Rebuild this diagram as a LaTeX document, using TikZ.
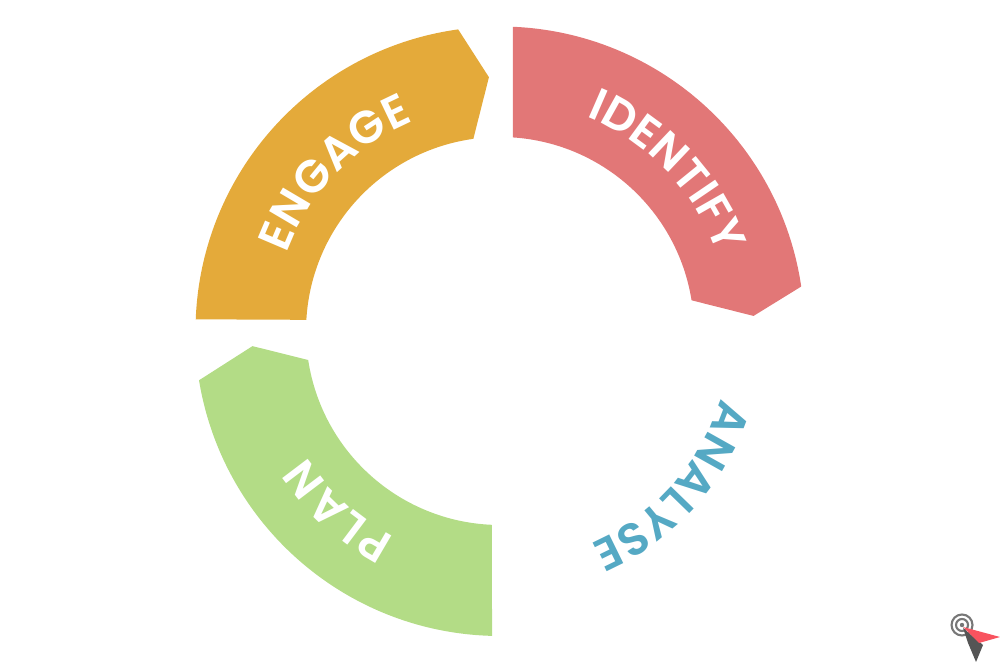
\documentclass[tikz,border=0pt]{standalone}
\usepackage{fontspec}
\newfontfamily\arcfont{Poppins SemiBold}
\usetikzlibrary{decorations.text}
\definecolor{identifycol}{HTML}{E27777}
\definecolor{engagecol}{HTML}{E4AA3A}
\definecolor{plancol}{HTML}{B3DC86}
\definecolor{analysecol}{HTML}{55A9C4}
\definecolor{cursorcol}{HTML}{555555}
\definecolor{cursorred}{HTML}{F8535F}
\tikzset{
  arclabel/.style 2 args={decorate,decoration={text along path,text align=fit to path,
    text={|\fontsize{13}{14}\selectfont\arcfont\color{#1}|#2}}},
  ringline/.style={draw=cursorcol!80,line width=0.6pt}
}
\begin{document}
\begin{tikzpicture}
\useasboundingbox (0,0) rectangle (10,6.62);
\begin{scope}[shift={(5,3.31)}]
\fill[identifycol] (87.6:3.045) arc[start angle=87.6,end angle=8.4,radius=3.045] -- (3.4:2.54) -- (9.1:1.94) arc[start angle=9.1,end angle=86.2,radius=1.94] -- cycle;
\fill[engagecol] (177.8:3.045) arc[start angle=177.8,end angle=97.9,radius=3.045] -- (92.5:2.54) -- (97.9:1.94) arc[start angle=97.9,end angle=176.7,radius=1.94] -- cycle;
\fill[plancol] (268.5:3.05) arc[start angle=268.5,end angle=189.3,radius=3.05] -- (183.5:2.48) -- (188.6:1.94) arc[start angle=188.6,end angle=267.6,radius=1.94] -- cycle;

\path[arclabel={white}{IDENTIFY}] (68:2.31) arc[start angle=68,end angle=20,radius=2.31];
\path[arclabel={white}{ENGAGE}] (160:2.27) arc[start angle=160,end angle=112.5,radius=2.27];
\path[arclabel={white}{PLAN}] (243:2.31) arc[start angle=243,end angle=213,radius=2.31];
\path[arclabel={analysecol}{ANALYSE}] (-17:2.31) arc[start angle=-17,end angle=-65.5,radius=2.31];
\end{scope}

% cursor
\draw[ringline] (9.62,0.37) circle (0.105);
\draw[ringline] (9.62,0.37) circle (0.06);
\fill[cursorcol!80] (9.62,0.37) circle (0.022);
\fill[cursorcol] (9.63,0.34) -- (9.83,0.17) -- (9.76,0) -- (9.68,0.19) -- cycle;
\fill[cursorred] (9.63,0.35) -- (10,0.25) -- (9.79,0.19) -- cycle;
\end{tikzpicture}
\end{document}
